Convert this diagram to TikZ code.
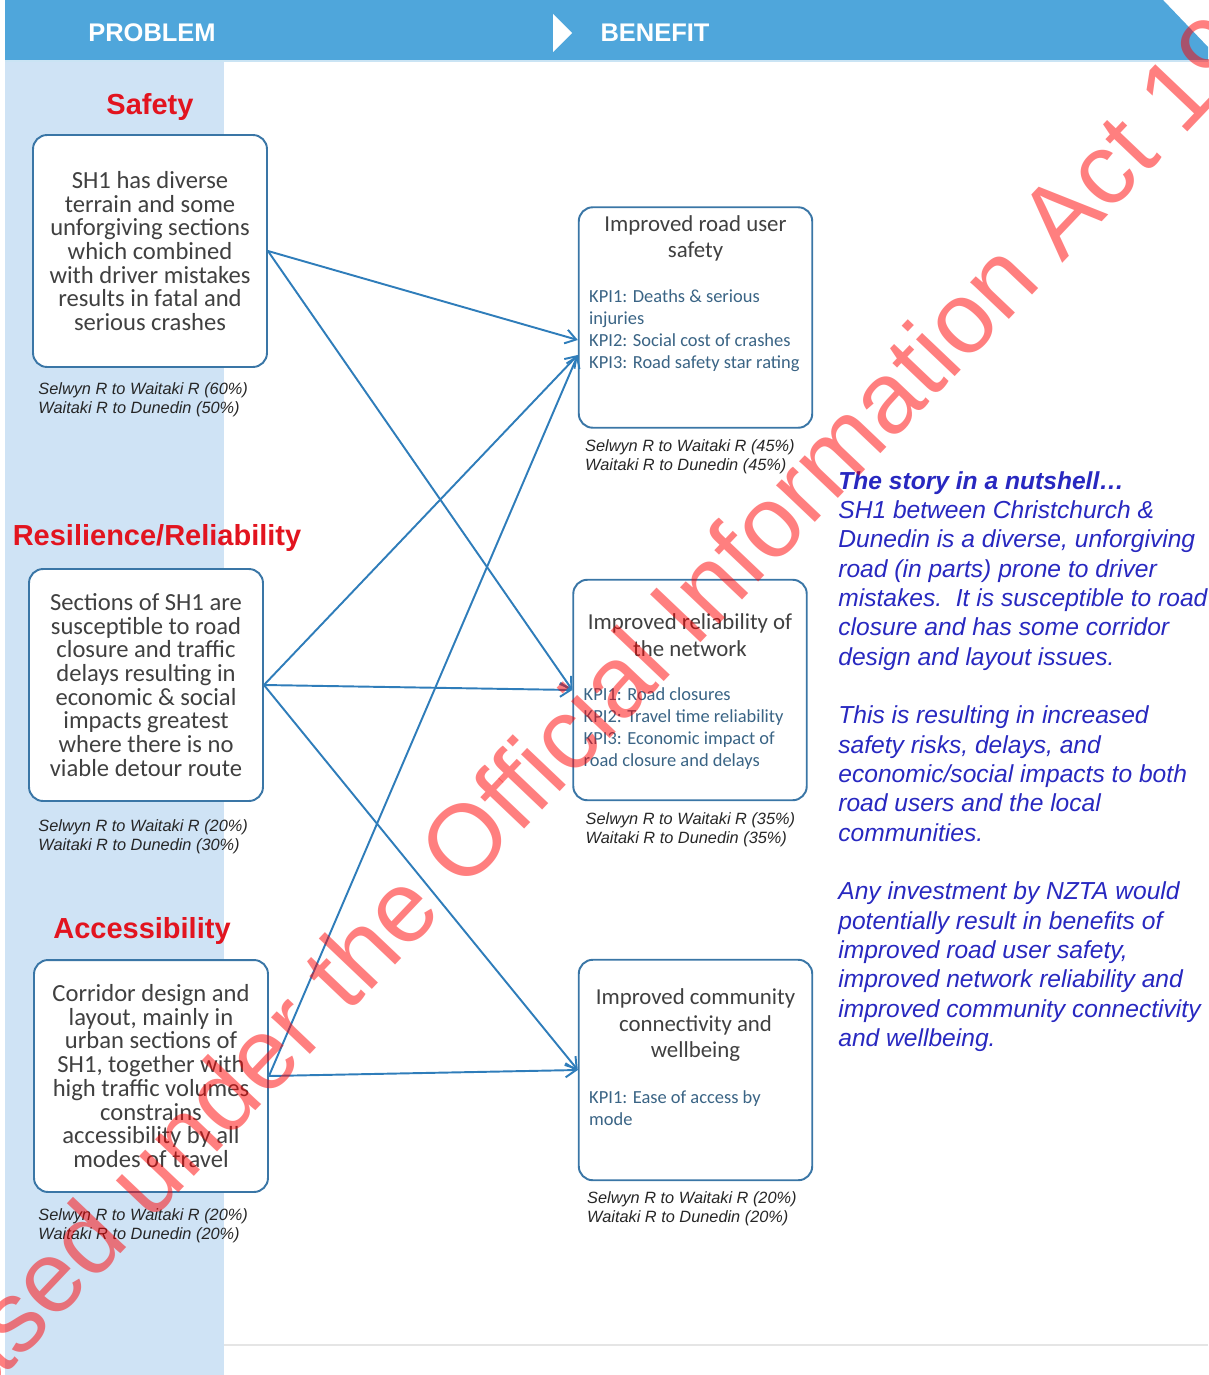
\documentclass[tikz,border=0pt]{standalone}
\usepackage{fontspec}
\setmainfont{Carlito}
\newfontfamily\arialfont{Liberation Sans}
\usetikzlibrary{positioning,arrows.meta}

\definecolor{bandblue}{HTML}{4FA6DB}
\definecolor{colblue}{HTML}{CFE3F5}
\definecolor{boxline}{HTML}{3A76A6}
\definecolor{arrowblue}{HTML}{2F7DBA}
\definecolor{headred}{HTML}{E2141F}
\definecolor{bodygray}{HTML}{404040}
\definecolor{kpiblue}{HTML}{3A6485}
\definecolor{storyblue}{HTML}{2828C0}

\begin{document}
\begin{tikzpicture}[x=0.02cm, y=-0.02cm,
    probbox/.style={draw=boxline, line width=1.1pt, rounded corners=0.28cm, fill=white,
      minimum width=4.68cm, minimum height=4.64cm, align=center, text=bodygray,
      font=\fontsize{14}{13.5}\selectfont, inner sep=0pt},
    benbox/.style={draw=boxline, line width=1.1pt, rounded corners=0.28cm, fill=white,
      minimum width=4.67cm, minimum height=4.41cm, inner sep=0pt},
    headline/.style={text=headred, font=\arialfont\bfseries\fontsize{16.5}{18}\selectfont, inner sep=0pt},
    bandtext/.style={text=white, font=\arialfont\bfseries\fontsize{14.5}{16}\selectfont},
    bentitle/.style={align=center, text=bodygray, font=\fontsize{13}{15}\selectfont, inner sep=0pt},
    kpi/.style={align=left, text=kpiblue, font=\fontsize{10.5}{12.5}\selectfont, inner sep=0pt},
    route/.style={align=left, text=black!85, font=\arialfont\itshape\fontsize{9.3}{10.8}\selectfont, inner sep=0pt},
    story/.style={align=left, text=storyblue, font=\arialfont\itshape\fontsize{14}{16.7}\selectfont, inner sep=0pt},
    stamp/.style={text=red, text opacity=0.5, font=\arialfont\fontsize{57.5}{60}\selectfont, inner sep=0pt},
    link/.style={draw=arrowblue, line width=1.1pt, ->},
    >={Straight Barb[length=6pt,width=8pt]}
  ]
  \useasboundingbox (0,0) rectangle (1208,1375);

  % background: problem column and header band
  \fill[colblue] (5,61) rectangle (224,1375);
  \fill[bandblue] (5,0) -- (1163,0) -- (1208,47) -- (1208,61) -- (5,61) -- cycle;
  \draw[white!70!bandblue, line width=1pt] (5,61) -- (1208,61);
  \fill[white] (553,14) -- (572,33) -- (553,52) -- cycle;
  \draw[black!10, line width=0.8pt] (224,1345) -- (1208,1345);

  \node[bandtext] (problem) at (152,33) {PROBLEM};
  \node[bandtext] (benefit) at (655,33) {BENEFIT};

  % problems
  \node[probbox] (safety) at (150,251) {SH1 has diverse\\terrain and some\\unforgiving sections\\which combined\\with driver mistakes\\results in fatal and\\serious crashes};
  \node[probbox] (resil) at (146,685) {Sections of SH1 are\\susceptible to road\\closure and traffic\\delays resulting in\\economic \& social\\impacts greatest\\where there is no\\viable detour route};
  \node[probbox] (access) at (151,1076) {Corridor design and\\layout, mainly in\\urban sections of\\SH1, together with\\high traffic volumes\\constrains\\accessibility by all\\modes of travel};

  \node[headline, above=7.7pt of safety] (safetyhead) {Safety};
  \node[headline, above=9.4pt of resil, xshift=0.22cm] (resilhead) {Resilience/Reliability};
  \node[headline, above=8.3pt of access, xshift=-0.18cm] (accesshead) {Accessibility};

  \node[route, below right=0.28cm and 0.12cm of safety.south west] (safetyroute) {Selwyn R to Waitaki R (60\%)\\Waitaki R to Dunedin (50\%)};
  \node[route, below right=0.34cm and 0.2cm of resil.south west] (resilroute) {Selwyn R to Waitaki R (20\%)\\Waitaki R to Dunedin (30\%)};
  \node[route, below right=0.3cm and 0.1cm of access.south west] (accessroute) {Selwyn R to Waitaki R (20\%)\\Waitaki R to Dunedin (20\%)};

  % benefits
  \node[benbox] (usersafety) at (695.5,317.5) {};
  \node[benbox] (network) at (690,690) {};
  \node[benbox] (community) at (695.5,1070) {};

  \node[bentitle, below=5.1pt of usersafety.north] (usersafetyhead) {Improved road user\\safety};
  \node[kpi, below right=47.5pt and 6.3pt of usersafety.north west] (usersafetykpi) {KPI1: Deaths \& serious\\injuries\\KPI2: Social cost of crashes\\KPI3: Road safety star rating};
  \node[bentitle, below=19.9pt of network.north] (networkhead) {Improved reliability of\\the network};
  \node[kpi, below right=61.7pt and 6.3pt of network.north west] (networkkpi) {KPI1: Road closures\\KPI2: Travel time reliability\\KPI3: Economic impact of\\road closure and delays};
  \node[bentitle, below=17pt of community.north] (communityhead) {Improved community\\connectivity and\\wellbeing};
  \node[kpi, below right=74.8pt and 6.3pt of community.north west] (communitykpi) {KPI1: Ease of access by\\mode};

  \node[route, below right=0.22cm and 0.14cm of usersafety.south west] (usersafetyroute) {Selwyn R to Waitaki R (45\%)\\Waitaki R to Dunedin (45\%)};
  \node[route, below right=0.22cm and 0.26cm of network.south west] (networkroute) {Selwyn R to Waitaki R (35\%)\\Waitaki R to Dunedin (35\%)};
  \node[route, below right=0.2cm and 0.18cm of community.south west] (communityroute) {Selwyn R to Waitaki R (20\%)\\Waitaki R to Dunedin (20\%)};

  % links problem -> benefit
  \path (safety.east) edge[link] ([yshift=-0.45cm]usersafety.west)
        (safety.east) edge[link] (network.west)
        (resil.east) edge[link] ([yshift=-0.75cm]usersafety.west)
        (resil.east) edge[link] (network.west)
        (resil.east) edge[link] (community.west)
        (access.east) edge[link] ([yshift=-0.75cm]usersafety.west)
        (access.east) edge[link] (community.west);

  % summary
  \node[story, anchor=north west] (nutshell) at (838,471) {\textbf{The story in a nutshell…}\\SH1 between Christchurch \&\\Dunedin is a diverse, unforgiving\\road (in parts) prone to driver\\mistakes.\ \ It is susceptible to road\\closure and has some corridor\\design and layout issues.\\[16.7pt]This is resulting in increased\\safety risks, delays, and\\economic/social impacts to both\\road users and the local\\communities.\\[16.7pt]Any investment by NZTA would\\potentially result in benefits of\\improved road user safety,\\improved network reliability and\\improved community connectivity\\and wellbeing.};

  % release stamp
  \node[stamp, rotate=46.45, anchor=base west] (release) at (-163,1552) {Released under the Official Information Act 1982};
\end{tikzpicture}
\end{document}
